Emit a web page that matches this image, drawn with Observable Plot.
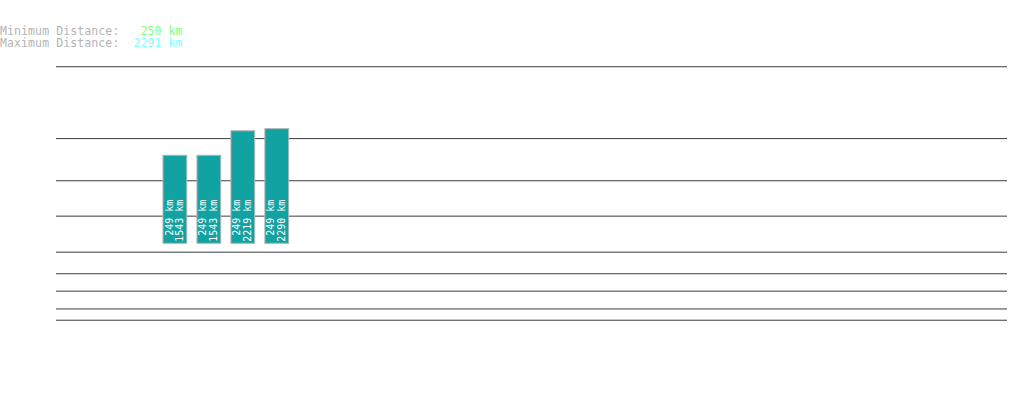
<!DOCTYPE html>
<html>
<head>
<meta charset="utf-8">
<script src="https://cdn.jsdelivr.net/npm/d3@7"></script>
<script src="https://cdn.jsdelivr.net/npm/@observablehq/plot@0.6"></script>
<style>
  html, body { margin: 0; padding: 0; background: #ffffff; }
  #header {
    box-sizing: border-box;
    height: 50px;
    padding-top: 25px;
    font-family: "DejaVu Sans Mono", monospace;
    font-size: 11.5px;
    letter-spacing: 0.1px;
    line-height: 12px;
    color: #b4b4b4;
    white-space: pre;
  }
  #header div { height: 12px; }
  #chart svg { display: block; }
</style>
</head>
<body>
<div id="header"></div>
<div id="chart"></div>
<script>
// ---- data ----
const minDistanceKm = 250;
const maxDistanceKm = 2291;
const slots = [3, 4, 5, 6];
const minKm = [249, 249, 249, 249];
const maxKm = [1543, 1543, 2219, 2290];
const gridKm = [5780, 1990, 1065, 630, 369, 268, 207, 159, 134.5];
const baseKm = 418;
const slotCount = 28;

// ---- header ----
const header = document.getElementById("header");
header.innerHTML =
  `<div>Minimum Distance: <span style="color:#80ff80">${String(minDistanceKm).padStart(5)} km</span></div>` +
  `<div>Maximum Distance: <span style="color:#80ffff">${String(maxDistanceKm).padStart(5)} km</span></div>`;

// ---- chart ----
const data = slots.map((s, i) => ({ slot: s, min: minKm[i], max: maxKm[i] }));

const chart = Plot.plot({
  width: 1019,
  height: 352,
  marginLeft: 56,
  marginRight: 12,
  marginTop: 0,
  marginBottom: 0,
  style: { background: "#ffffff" },
  x: { type: "band", domain: d3.range(slotCount), paddingInner: 0.3, paddingOuter: 0.15, round: false, axis: null },
  y: { type: "log", domain: [100, 10000], range: [289.7, -20.7], axis: null },
  marks: [
    Plot.ruleY(gridKm, { stroke: "#3c3c3c", strokeWidth: 1 }),
    Plot.barY(data, {
      x: "slot",
      y1: () => baseKm,
      y2: "max",
      fill: "#12a2a2",
      stroke: "#b4b4b4",
      strokeWidth: 1
    }),
    Plot.text(data, {
      x: "slot",
      y: () => baseKm,
      text: d => `${String(d.min).padStart(4)} km\n${d.max} km`,
      rotate: -90,
      textAnchor: "start",
      lineHeight: 1.05,
      fill: "white",
      fontSize: 10,
      fontFamily: "DejaVu Sans Mono",
      dy: -2,
      dx: -1
    })
  ]
});
document.getElementById("chart").appendChild(chart);
</script>
</body>
</html>
